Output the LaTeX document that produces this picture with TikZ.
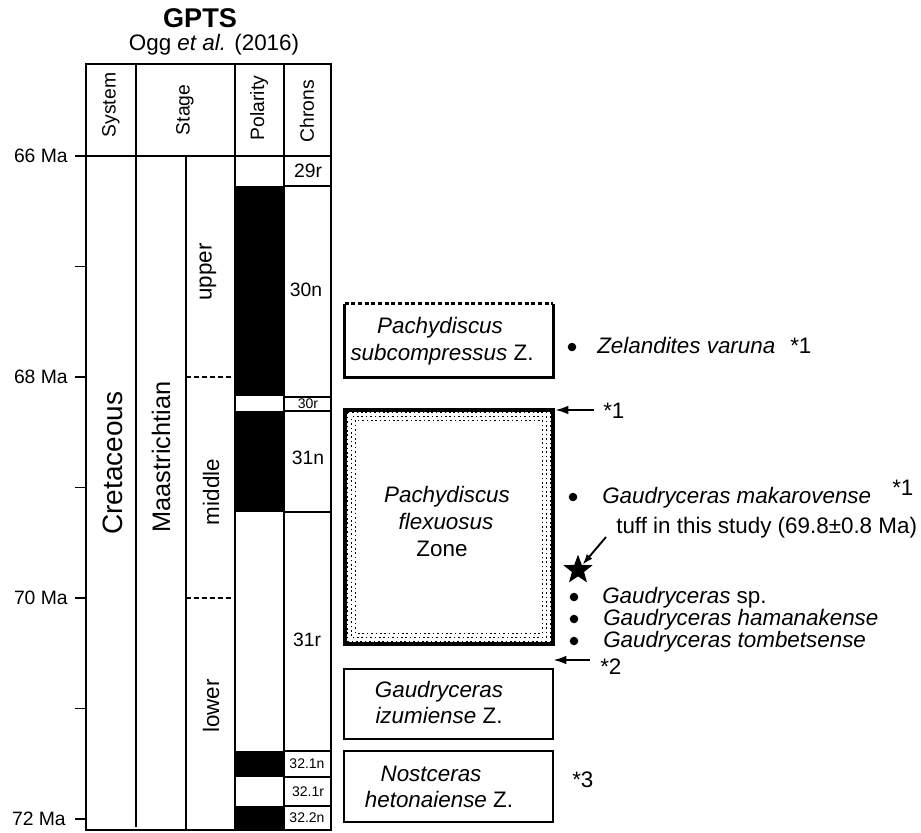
\documentclass[tikz,border=0pt]{standalone}
\usepackage{fontspec}
\setmainfont{Liberation Sans}
\usetikzlibrary{arrows.meta,shapes.geometric}
\newcommand\fsz[2]{\fontsize{#1pt}{#2pt}\selectfont}
\begin{document}
\begin{tikzpicture}[x=0.75pt,y=-0.75pt,
  frame/.style={line width=2.1pt},
  thinl/.style={line width=1pt},
  tick/.style={line width=1.4pt},
  stagedash/.style={line width=1.7pt, dash pattern=on 3.75pt off 2.25pt},
  axlab/.style={inner sep=0pt, anchor=east, font=\fsz{14.5}{17}},
  hdr/.style={inner sep=0pt, rotate=90, font=\fsz{14.5}{17}},
  chron/.style={inner sep=0pt, font=\fsz{14.5}{17}},
  chronsm/.style={inner sep=0pt, font=\fsz{10.5}{12}},
  maintxt/.style={inner sep=0pt, anchor=base, font=\fsz{16.8}{20}},
  listtxt/.style={inner sep=0pt, anchor=base west, font=\fsz{16.8}{20}},
  zonebox/.style={draw, line width=1.9pt, inner sep=0pt},
  arr/.style={line width=1.7pt, -{Latex[length=10pt,width=6.5pt]}},
  arrthin/.style={line width=1.4pt, -{Latex[length=8pt,width=5.5pt]}},
  bullet/.style={circle, fill, inner sep=0pt, minimum size=6.4pt},
  stip/.style={line width=1.3pt, dash pattern=on 1.2pt off 2.1pt}]
\useasboundingbox (0,0) rectangle (921,832);

% title
\node[maintxt, font=\fsz{20.3}{24}\bfseries] (gpts) at (200,27) {GPTS};
\node[maintxt] (ogg) at (214,50) {Ogg \textit{et al.} (2016)};

% polarity fills
\fill (235,186) rectangle (284,396);
\fill (235,411) rectangle (284,512);
\fill (235,751) rectangle (284,777);
\fill (235,806) rectangle (284,830);

% chron boundaries
\foreach \yy in {186,397,411,512,751,777,806}
  \draw[thinl] (284,\yy) -- (331,\yy);

% stage sub-boundaries
\draw[stagedash] (186,377) -- (235,377);
\draw[stagedash] (186,598) -- (235,598);

% frame
\draw[frame] (86,64) rectangle (331,830);
\draw[frame] (75,156) -- (331,156);
\draw[frame] (136,64) -- (136,827);
\draw[frame] (186,156) -- (186,830);
\draw[frame] (235,64) -- (235,830);
\draw[frame] (284,64) -- (284,830);

% ticks
\foreach \yy in {266.5,377,487.5,598,708.5,819}
  \draw[tick] (75,\yy) -- (86,\yy);

% axis labels
\node[axlab] (l66) at (68,156) {66 Ma};
\node[axlab] (l68) at (68,377) {68 Ma};
\node[axlab] (l70) at (68,598) {70 Ma};
\node[axlab] (l72) at (66,819) {72 Ma};

% header labels
\node[hdr] (hsys) at (111,105) {System};
\node[hdr] (hstage) at (185,110) {Stage};
\node[hdr] (hpol) at (259,108) {Polarity};
\node[hdr] (hchr) at (307,111) {Chrons};

% column labels
\node[inner sep=0pt, rotate=90, font=\fsz{21}{24}] (cret) at (113,463) {Cretaceous};
\node[inner sep=0pt, rotate=90, font=\fsz{19}{22}] (maas) at (161,457) {Maastrichtian};
\node[inner sep=0pt, rotate=90, font=\fsz{16.8}{20}] (upper) at (208,272) {upper};
\node[inner sep=0pt, rotate=90, font=\fsz{16.8}{20}] (middle) at (211,492) {middle};
\node[inner sep=0pt, rotate=90, font=\fsz{16.8}{20}] (lower) at (211,706) {lower};

% chron labels
\node[chron] (c29r) at (308,171) {29r};
\node[chron] (c30n) at (306,290) {30n};
\node[chronsm] (c30r) at (308,404) {30r};
\node[chron] (c31n) at (308,458) {31n};
\node[chron] (c31r) at (307,640) {31r};
\node[chronsm] (c321n) at (307,764) {32.1n};
\node[chronsm] (c321r) at (308,791.5) {32.1r};
\node[chronsm] (c322n) at (307,818) {32.2n};

% zone boxes
\node[inner sep=0pt, minimum width=156pt, minimum height=54.75pt] (subbox) at (449,340.5) {};
\draw[line width=1.9pt] (subbox.north west) -- (subbox.south west) -- (subbox.south east) -- (subbox.north east);
\draw[line width=1.9pt, dash pattern=on 3pt off 2pt] (subbox.north west) -- (subbox.north east);
\node[maintxt] (sub1) at (440,333) {\itshape Pachydiscus};
\node[maintxt] (sub2) at (442,360) {\itshape subcompressus\/ \upshape Z.};

\node[zonebox, line width=2.3pt, minimum width=156pt, minimum height=175.5pt] (flexbox) at (449,527) {};
\draw[stip] ([xshift=4*0.75pt,yshift=-4*0.75pt]flexbox.north west) rectangle ([xshift=-4*0.75pt,yshift=4*0.75pt]flexbox.south east);
\draw[stip, dash phase=1.6pt] ([xshift=8*0.75pt,yshift=-8*0.75pt]flexbox.north west) rectangle ([xshift=-8*0.75pt,yshift=8*0.75pt]flexbox.south east);
\draw[stip] ([xshift=12*0.75pt,yshift=-12*0.75pt]flexbox.north west) rectangle ([xshift=-12*0.75pt,yshift=12*0.75pt]flexbox.south east);
\node[maintxt] (flex1) at (447,502) {\itshape Pachydiscus};
\node[maintxt] (flex2) at (446,529) {\itshape flexuosus};
\node[maintxt] (flex3) at (442,556) {Zone};

\node[zonebox, minimum width=156.75pt, minimum height=52.5pt] (izubox) at (448.5,704) {};
\node[maintxt] (izu1) at (439,697) {\itshape Gaudryceras};
\node[maintxt] (izu2) at (439,723) {\itshape izumiense\/ \upshape Z.};

\node[zonebox, minimum width=156.75pt, minimum height=53.25pt] (nosbox) at (448.5,786.5) {};
\node[maintxt] (nos1) at (431,781) {\itshape Nostceras};
\node[maintxt] (nos2) at (439,807) {\itshape hetonaiense\/ \upshape Z.};

% species list
\node[bullet] (bz) at (572,347) {};
\node[listtxt] (zel) at (597,353) {\itshape Zelandites varuna};
\node[listtxt] (zelref) at (790,353) {*1};

\node[listtxt] (r1) at (603,418) {*1};
\coordinate (a1s) at (594,410);
\coordinate (a1e) at (555,410);
\draw[arr] (a1s) -- (a1e);

\node[bullet] (bm) at (573,497) {};
\node[listtxt] (mak) at (602,503) {\itshape Gaudryceras makarovense};
\node[listtxt] (makref) at (892,495) {*1};

\node[star, star points=5, star point ratio=2.4, fill, inner sep=0pt, minimum size=23pt] (star) at (578,570) {};
\node[listtxt] (tuff) at (616,533) {tuff in this study (69.8±0.8 Ma)};
\coordinate (ts) at (606,537);
\draw[arrthin] (ts) -- (star);

\node[bullet] (b1) at (574,597) {};
\node[listtxt] (g1) at (602,603) {\itshape Gaudryceras\/ \upshape sp.};
\node[bullet] (b2) at (574,619) {};
\node[listtxt] (g2) at (603,625) {\itshape Gaudryceras hamanakense};
\node[bullet] (b3) at (574,641) {};
\node[listtxt] (g3) at (603,647) {\itshape Gaudryceras tombetsense};

\node[listtxt] (r2) at (600,674) {*2};
\coordinate (a2s) at (590,660);
\coordinate (a2e) at (553,660);
\draw[arr] (a2s) -- (a2e);

\node[listtxt] (r3) at (572,787) {*3};
\end{tikzpicture}
\end{document}
